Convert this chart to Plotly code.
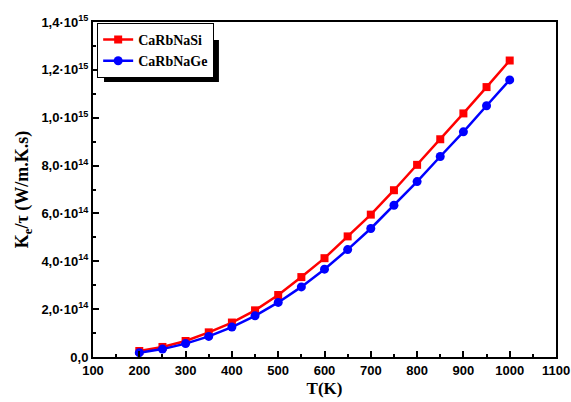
import plotly.graph_objects as go

T = [200, 250, 300, 350, 400, 450, 500, 550, 600, 650, 700, 750, 800, 850, 900, 950, 1000]
si = [0.25, 0.42, 0.67, 1.03, 1.44, 1.95, 2.59, 3.34, 4.13, 5.04, 5.95, 6.97, 8.03, 9.10, 10.18, 11.28, 12.39]
ge = [0.18, 0.33, 0.56, 0.86, 1.25, 1.72, 2.28, 2.93, 3.67, 4.49, 5.37, 6.34, 7.33, 8.38, 9.41, 10.50, 11.58]
scale = 1e14
names = ["CaRbNaSi", "CaRbNaGe"]
ytick_vals = [0, 2e14, 4e14, 6e14, 8e14, 1.0e15, 1.2e15, 1.4e15]
ytick_text = ["0,0", "2,0·10<sup>14</sup>", "4,0·10<sup>14</sup>", "6,0·10<sup>14</sup>",
              "8,0·10<sup>14</sup>", "1,0·10<sup>15</sup>", "1,2·10<sup>15</sup>", "1,4·10<sup>15</sup>"]
xtick_vals = list(range(100, 1101, 100))

fig = go.Figure()
fig.add_trace(go.Scatter(x=T, y=[v * scale for v in si], name=names[0], mode="lines+markers",
                         line=dict(color="#ff0000", width=2.5),
                         marker=dict(symbol="square", size=8, color="#ff0000")))
fig.add_trace(go.Scatter(x=T, y=[v * scale for v in ge], name=names[1], mode="lines+markers",
                         line=dict(color="#0000ff", width=2.5),
                         marker=dict(symbol="circle", size=9, color="#0000ff")))

axis_common = dict(showline=True, linecolor="black", linewidth=2, mirror=True,
                   ticks="inside", tickcolor="black", tickwidth=1.5, ticklen=6,
                   showgrid=False, zeroline=False, automargin=False,
                   tickfont=dict(family="Liberation Sans", size=13, color="black", weight="bold"),
                   minor=dict(ticks="inside", ticklen=3, tickcolor="black", tickwidth=1.5))

fig.update_xaxes(range=[100, 1100], tickvals=xtick_vals,
                 title=dict(text="T(K)", font=dict(family="Liberation Serif", size=17, color="black", weight="bold"),
                            standoff=6),
                 **axis_common)
fig.update_yaxes(range=[0, 1.4e15], tickvals=ytick_vals, ticktext=ytick_text,
                 title=dict(text="K<sub>e</sub>/τ (W/m.K.s)",
                            font=dict(family="Liberation Serif", size=18, color="black", weight="bold"),
                            standoff=8),
                 **axis_common)
fig.update_xaxes(minor=dict(tickvals=[150 + 100 * i for i in range(10)]))
fig.update_yaxes(minor=dict(tickvals=[1e14 + 2e14 * i for i in range(7)]))

fig.update_layout(
    width=571, height=402,
    margin=dict(l=93, r=15, t=22, b=45),
    plot_bgcolor="white", paper_bgcolor="white",
    legend=dict(x=0.009, y=0.997, xanchor="left", yanchor="top",
                bgcolor="white", bordercolor="black", borderwidth=1,
                font=dict(family="Liberation Serif", size=14, color="black", weight="bold"),
                tracegroupgap=0, itemwidth=30),
    showlegend=True,
)
fig.add_shape(type="rect", xref="paper", yref="paper", x0=0.0238, x1=0.272, y0=0.821, y1=0.946,
              fillcolor="black", line=dict(width=0), layer="above")

fig.write_html("out.html")
